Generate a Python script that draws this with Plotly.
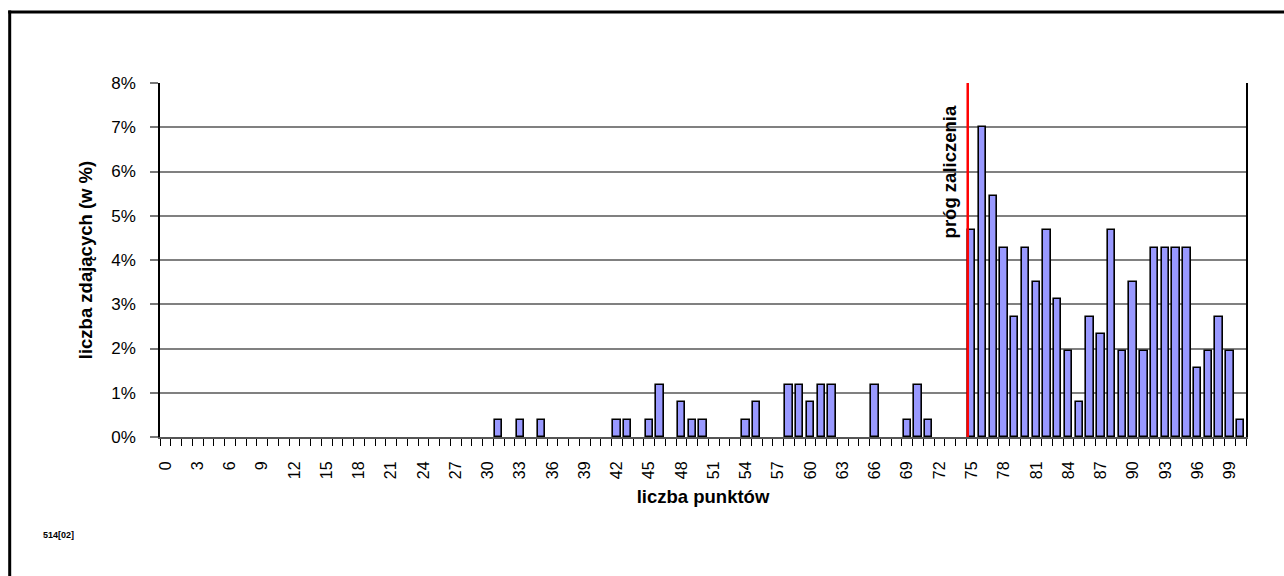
import plotly.graph_objects as go

# ---- data ----
points = [31, 33, 35, 42, 43, 45, 46, 48, 49, 50, 54, 55, 58, 59, 60, 61, 62, 66, 69, 70, 71,
          75, 76, 77, 78, 79, 80, 81, 82, 83, 84, 85, 86, 87, 88, 89, 90, 91, 92, 93, 94, 95,
          96, 97, 98, 99, 100]
percent = [0.39, 0.39, 0.39, 0.39, 0.39, 0.39, 1.17, 0.78, 0.39, 0.39, 0.39, 0.78, 1.17, 1.17,
           0.78, 1.17, 1.17, 1.17, 0.39, 1.17, 0.39,
           4.67, 7.00, 5.45, 4.28, 2.72, 4.28, 3.50, 4.67, 3.11, 1.95, 0.78, 2.72, 2.33, 4.67,
           1.95, 3.50, 1.95, 4.28, 4.28, 4.28, 4.28, 1.56, 1.95, 2.72, 1.95, 0.39]
x_tickvals = [0, 3, 6, 9, 12, 15, 18, 21, 24, 27, 30, 33, 36, 39, 42, 45, 48, 51, 54, 57, 60,
              63, 66, 69, 72, 75, 78, 81, 84, 87, 90, 93, 96, 99]
x_ticktext = ["0", "3", "6", "9", "12", "15", "18", "21", "24", "27", "30", "33", "36", "39",
              "42", "45", "48", "51", "54", "57", "60", "63", "66", "69", "72", "75", "78",
              "81", "84", "87", "90", "93", "96", "99"]
y_tickvals = [0, 1, 2, 3, 4, 5, 6, 7, 8]
y_ticktext = ["0%", "1%", "2%", "3%", "4%", "5%", "6%", "7%", "8%"]
threshold_x = 74.62
threshold_label = "próg zaliczenia"

FONT = "Liberation Sans, Arial, sans-serif"

fig = go.Figure()
fig.add_trace(go.Bar(
    x=points, y=percent, width=0.68,
    marker=dict(color="#9999FF", line=dict(color="black", width=1.6)),
    hoverinfo="x+y",
))

# page geometry (body margin removed via post_script)
L, R, T, B = 160, 1246, 83, 437
W, H = 1284, 576
pw, ph = R - L, B - T

def px_x(x):
    return (x - L) / pw

def px_y(y):
    return (B - y) / ph

fig.update_layout(
    width=W, height=H,
    margin=dict(l=L, r=W - R, t=T, b=H - B, pad=0),
    paper_bgcolor="white", plot_bgcolor="white",
    showlegend=False,
    font=dict(family=FONT, color="black", size=16),
    bargap=0,
)

fig.update_xaxes(
    range=[-0.5, 100.5],
    tickmode="array", tickvals=x_tickvals, ticktext=x_ticktext,
    tickangle=-90, tickfont=dict(size=16, family=FONT),
    ticks="", ticklabelstandoff=16,
    minor=dict(ticks="outside", tick0=-0.5, dtick=1, ticklen=7, tickcolor="black",
               tickwidth=1.2, showgrid=False),
    showline=True, linecolor="#555555", linewidth=2,
    showgrid=False, zeroline=False,
    title=dict(text="<b>liczba punktów</b>", font=dict(size=18.5, family=FONT), standoff=12),
    fixedrange=True,
)
fig.update_yaxes(
    range=[0, 8],
    tickmode="array", tickvals=y_tickvals, ticktext=y_ticktext,
    tickfont=dict(size=17, family=FONT),
    ticks="outside", ticklen=8, tickcolor="#777777", tickwidth=1.5,
    ticklabelstandoff=11,
    showline=True, linecolor="black", linewidth=1.5, mirror=True,
    showgrid=True, gridcolor="#808080", gridwidth=1.5,
    zeroline=False,
    title=dict(text="<b>liczba zdających (w %)</b>", font=dict(size=18.5, family=FONT), standoff=14),
    fixedrange=True,
)

# threshold line
fig.add_shape(type="line", xref="x", yref="y", x0=threshold_x, x1=threshold_x, y0=0, y1=8,
              line=dict(color="#FF0000", width=2.5))
fig.add_annotation(x=threshold_x - 1.7, y=5.99, xref="x", yref="y",
                   text="<b>" + threshold_label + "</b>", textangle=-90,
                   showarrow=False, xanchor="center", yanchor="middle",
                   font=dict(size=18.5, family=FONT, color="black"))

# outer frame (top and left edges visible)
fig.add_shape(type="line", xref="paper", yref="paper",
              x0=px_x(9.7), x1=px_x(9.7), y0=px_y(578), y1=px_y(10.5),
              line=dict(color="black", width=3), layer="above")
fig.add_shape(type="line", xref="paper", yref="paper",
              x0=px_x(8.2), x1=px_x(1286), y0=px_y(12), y1=px_y(12),
              line=dict(color="black", width=3), layer="above")

fig.add_annotation(x=px_x(58), y=px_y(535), xref="paper", yref="paper",
                   text="<b>514[02]</b>", showarrow=False, xanchor="center", yanchor="middle",
                   font=dict(size=9, family=FONT, color="black"))

fig.write_html("out.html", config={"displayModeBar": False},
               post_script="document.body.style.margin='0';document.body.style.overflow='hidden';")
